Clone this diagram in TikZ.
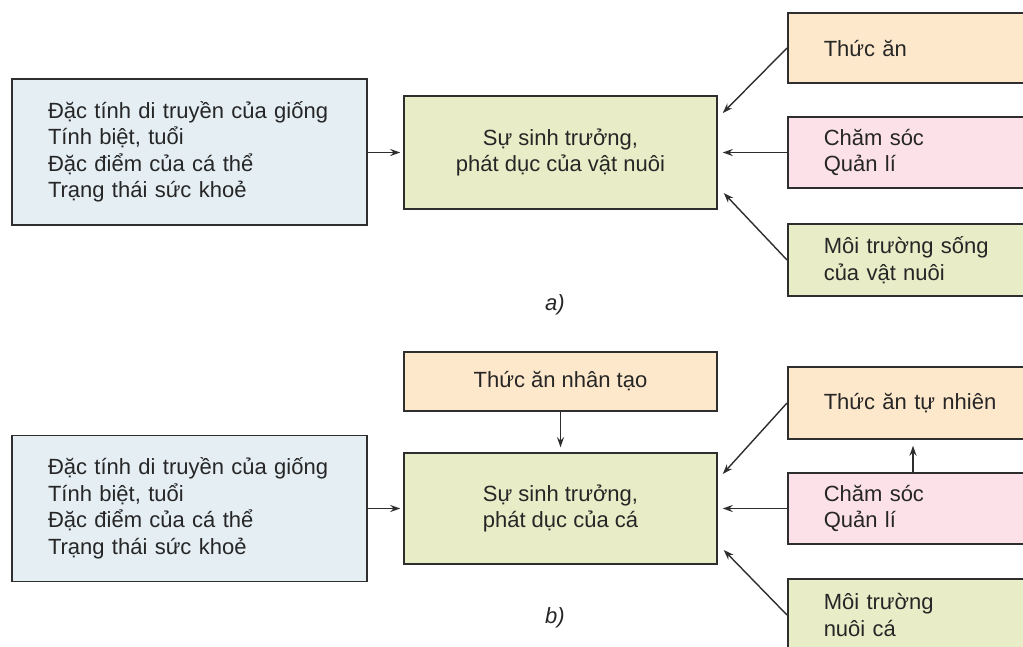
\documentclass[tikz,border=0pt]{standalone}
\usepackage{fontspec}
\setmainfont{Liberation Sans}
\usetikzlibrary{calc,arrows.meta}
\definecolor{bluebox}{HTML}{E4EEF3}
\definecolor{greenbox}{HTML}{E8EDC7}
\definecolor{orangebox}{HTML}{FDE8CC}
\definecolor{pinkbox}{HTML}{FCE2E8}
\definecolor{edge}{HTML}{2E2E2E}
\definecolor{ink}{HTML}{262626}
\tikzset{
  box/.style={draw=edge, line width=1.5pt, rectangle, inner ysep=0pt, text=ink,
    font=\fontsize{22}{26.5}\selectfont},
  leftbox/.style={box, fill=bluebox, minimum width=355pt, minimum height=146pt,
    inner xsep=36pt, text width=283pt, align=left},
  midbox/.style={box, fill=greenbox, minimum width=313pt, align=center},
  sidebox/.style={box, anchor=west, minimum width=280pt, inner xsep=36pt,
    text width=208pt, align=left},
  arr/.style={draw=edge, line width=1.4pt, -{Stealth[length=10pt,width=7pt]}},
  lab/.style={font=\fontsize{22}{24}\selectfont\rmfamily\itshape, text=ink}
}
\begin{document}
\begin{tikzpicture}[x=1pt,y=-1pt]
\useasboundingbox (0,0) rectangle (1023,646);
\clip (0,0) rectangle (1023,646);
\fill[white] (0,0) rectangle (1023,646);
% ---------- a) ----------
\node[leftbox] (L1) at (189.5,152) {Đặc tính di truyền của giống\\Tính biệt, tuổi\\Đặc điểm của cá thể\\Trạng thái sức khoẻ};
\node[midbox, minimum height=113pt] (C1) at (560.5,152.5) {Sự sinh trưởng,\\phát dục của vật nuôi};
\node[sidebox, fill=orangebox, minimum height=70pt] (R1a) at (787,48) {Thức ăn};
\node[sidebox, fill=pinkbox, minimum height=71pt] (R1b) at (787,152.5) {Chăm sóc\\Quản lí};
\node[sidebox, fill=greenbox, minimum height=72pt] (R1c) at (787,260) {Môi trường sống\\của vật nuôi};
\node[lab] (la) at (555,305) {a)};
\draw[arr, shorten >=3pt] (L1.east |- C1.west) -- (C1.west);
\coordinate (t1) at ($(C1.east)+(5,-39.5)$);
\coordinate (b1) at ($(C1.east)+(6,40.5)$);
\draw[arr] (R1a.west) -- (t1);
\draw[arr, shorten >=5pt] (R1b.west) -- (C1.east);
\draw[arr] (R1c.west) -- (b1);
% ---------- b) ----------
\node[leftbox] (L2) at (189.5,508.5) {Đặc tính di truyền của giống\\Tính biệt, tuổi\\Đặc điểm của cá thể\\Trạng thái sức khoẻ};
\node[midbox, fill=orangebox, minimum height=59pt] (T2) at (560.5,381.5) {Thức ăn nhân tạo};
\node[midbox, minimum height=111pt] (C2) at (560.5,508.5) {Sự sinh trưởng,\\phát dục của cá};
\node[sidebox, fill=orangebox, minimum height=72pt] (R2a) at (787,403) {Thức ăn tự nhiên};
\node[sidebox, fill=pinkbox, minimum height=71pt] (R2b) at (787,508.5) {Chăm sóc\\Quản lí};
\node[sidebox, fill=greenbox, minimum height=72pt] (R2c) at (787,615) {Môi trường\\nuôi cá};
\node[lab] (lb) at (555,618) {b)};
\draw[arr, shorten >=3pt] (L2.east |- C2.west) -- (C2.west);
\draw[arr, shorten >=5pt] (T2.south) -- (C2.north);
\coordinate (t2) at ($(C2.east)+(5,-34.5)$);
\coordinate (b2) at ($(C2.east)+(6,41.5)$);
\draw[arr] (R2a.west) -- (t2);
\draw[arr, shorten >=5pt] (R2b.west) -- (C2.east);
\draw[arr] (R2c.west) -- (b2);
\draw[arr, shorten >=6pt] ([xshift=126pt]R2b.north west) -- ([xshift=126pt]R2a.south west);
\end{tikzpicture}
\end{document}
